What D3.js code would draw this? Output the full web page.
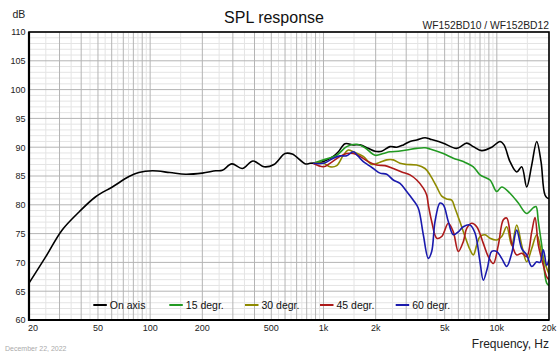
<!DOCTYPE html>
<html><head><meta charset="utf-8">
<script src="https://cdn.jsdelivr.net/npm/d3@7"></script>
<style>
body{margin:0;background:#fff;}
svg{display:block;font-family:"Liberation Sans",Arial,sans-serif;}
</style></head>
<body><svg id="c" width="560" height="356"></svg>
<script>
// ---- data ----
const yTicks = [60,65,70,75,80,85,90,95,100,105,110];
const xTickVals = [20,50,100,200,500,1000,2000,5000,10000,20000];
const xTickLabels = ["20","50","100","200","500","1k","2k","5k","10k","20k"];
const seriesNames = ["On axis","15 degr.","30 degr.","45 degr.","60 degr."];
const seriesColors = ["#000000","#229a22","#8e8a00","#ad1a1a","#1a1aad"];

const fOn = [20,25,31,39,48.5,60.5,75.5,86,103,130,160,200,239,261,296,340,392,454,518,600,660,788,836,942,1000,1139,1218,1331,1486,1624,1814,1983,2168,2418,2645,2888,3156,3450,3852,4116,4301,4913,5870,6702,7318,8181,9344,10434,11004,11915,13023,13919,14873,15900,16990,17990,18970,19816,20000];
const dbOn = [66.4,71.0,75.6,78.8,81.4,83.1,84.9,85.6,85.9,85.6,85.3,85.5,85.9,86.0,87.1,86.3,87.6,86.6,87.0,88.9,88.8,87.1,87.2,87.3,87.5,88.4,89.2,90.6,90.4,90.4,89.8,89.3,89.3,90.1,90.0,90.4,91.0,91.25,91.65,91.4,91.25,90.7,89.8,90.7,90.1,89.4,90.0,91.0,90.4,87.5,85.7,86.6,83.1,86.9,91.0,87.5,81.7,81.1,81.2];

const f15 = [870,1000,1192,1361,1554,1736,1983,2214,2418,2703,3021,3450,3852,4116,4913,5610,6406,7318,7998,9136,9986,10672,11915,13305,14873,16241,16834,17358,18156,19400,20000];
const db15 = [87.2,87.8,88.6,90.1,90.5,89.9,88.6,88.9,89.2,89.3,89.5,89.8,89.9,89.7,88.9,88.1,87.5,86.6,85.2,84.3,82.3,83.1,82.0,80.3,78.5,79.5,79.7,77.1,73.0,66.4,66.0];

const f30 = [870,1000,1090,1192,1301,1391,1486,1697,1898,2119,2316,2528,2764,3021,3450,3852,4116,4501,4809,5139,5492,5738,6133,6552,7004,7318,7656,7998,8547,9136,9986,10672,11404,12190,13023,13919,14873,15900,16990,18156,19400,20000];
const db30 = [87.2,87.2,86.6,86.8,88.6,89.5,89.2,88.4,87.0,87.4,87.8,87.8,87.2,87.0,86.9,86.3,85.2,83.1,81.5,81.0,80.8,79.4,77.0,74.5,72.2,71.3,73.0,74.5,74.8,74.2,73.9,74.5,76.2,73.0,76.5,73.0,70.1,72.4,74.8,71.6,69.0,68.0];

const f45 = [870,1000,1090,1246,1361,1486,1624,1814,2028,2265,2528,2827,3156,3450,3766,3940,4025,4210,4501,4809,5249,5610,5996,6406,6702,7164,7656,8356,8932,9546,10200,10902,11404,12190,13023,13919,14873,15900,16612,17358,18546,19400,20000];
const db45 = [87.2,86.6,87.2,88.4,88.9,88.9,88.4,87.5,86.9,86.8,86.3,85.7,85.2,84.3,82.9,81.7,80.0,77.1,74.2,74.5,76.8,75.3,71.9,73.6,75.9,76.8,76.2,73.3,71.0,69.8,73.0,77.4,77.7,73.3,71.3,71.6,71.0,75.3,77.8,73.0,69.5,67.5,67.0];

const f60 = [870,1000,1139,1246,1361,1486,1588,1697,1814,1938,2119,2316,2528,2764,3021,3298,3524,3766,4025,4210,4400,4702,4913,5249,5610,5996,6406,7004,7486,7998,8356,8814,9344,9986,10672,11404,12190,13023,13919,14873,15900,16990,17755,18546,19400,20000];
const db60 = [87.2,87.2,88.1,88.5,88.5,89.2,88.4,87.5,86.9,86.3,85.5,85.3,84.3,83.7,82.3,80.8,79.4,74.8,70.7,71.9,77.1,80.3,80.0,77.1,74.8,75.3,76.2,76.5,75.1,70.1,66.9,69.0,71.9,71.9,70.7,69.3,71.6,75.6,72.4,71.3,69.3,70.1,70.0,72.2,69.5,70.5];

const seriesF = [fOn,f15,f30,f45,f60];
const seriesDb = [dbOn,db15,db30,db45,db60];

// ---- layout ----
const L=29, R=549, T=32, B=320;
const svg = d3.select("#c");
const x = d3.scaleLog().domain([20,20000]).range([L,R]);
const y = d3.scaleLinear().domain([60,110]).range([B,T]);

// grid
const majorX=[], minorX=[];
[10,100,1000,10000].forEach(d=>{
  for(let k=1;k<=9;k++){ const v=k*d; if(v>=20&&v<=20000) majorX.push(v); const m=(k+0.5)*d; if(m>20&&m<20000) minorX.push(m);}
});
const minorY=[], majorY=[];
for(let v=60;v<=110;v++){ (v%5===0?majorY:minorY).push(v); }

const g = svg.append("g");
g.selectAll(".mnx").data(minorX).enter().append("line")
 .attr("x1",d=>x(d)).attr("x2",d=>x(d)).attr("y1",T).attr("y2",B)
 .attr("stroke","#e4e4e4").attr("stroke-width",1);
g.selectAll(".mny").data(minorY).enter().append("line")
 .attr("x1",L).attr("x2",R).attr("y1",d=>y(d)).attr("y2",d=>y(d))
 .attr("stroke","#e4e4e4").attr("stroke-width",1);
g.selectAll(".mjx").data(majorX).enter().append("line")
 .attr("x1",d=>x(d)).attr("x2",d=>x(d)).attr("y1",T).attr("y2",B)
 .attr("stroke","#b4b4b4").attr("stroke-width",1);
g.selectAll(".mjy").data(majorY).enter().append("line")
 .attr("x1",L).attr("x2",R).attr("y1",d=>y(d)).attr("y2",d=>y(d))
 .attr("stroke","#b4b4b4").attr("stroke-width",1);

// clip
svg.append("clipPath").attr("id","clip").append("rect")
 .attr("x",L).attr("y",T).attr("width",R-L).attr("height",B-T);

const line = d3.line().x(d=>x(d[0])).y(d=>y(d[1])).curve(d3.curveCatmullRom.alpha(0.5));
const cg = svg.append("g").attr("clip-path","url(#clip)");
seriesF.forEach((fs,i)=>{
  const pts = fs.map((f,j)=>[f,seriesDb[i][j]]);
  cg.append("path").datum(pts).attr("d",line).attr("fill","none")
    .attr("stroke",seriesColors[i]).attr("stroke-width",1.6)
    .attr("stroke-linejoin","round");
});

// frame
svg.append("rect").attr("x",L).attr("y",T).attr("width",R-L).attr("height",B-T)
 .attr("fill","none").attr("stroke","#000").attr("stroke-width",1.6);
svg.append("line").attr("x1",L).attr("x2",L).attr("y1",T).attr("y2",B+1).attr("stroke","#000").attr("stroke-width",2.2);
svg.append("line").attr("x1",L).attr("x2",R).attr("y1",B).attr("y2",B).attr("stroke","#000").attr("stroke-width",2.2);

// y labels
svg.selectAll(".yl").data(yTicks).enter().append("text")
 .attr("x",25.5).attr("y",d=>y(d)+3.3).attr("text-anchor","end")
 .attr("font-size","9px").attr("fill","#222").text(d=>d);
// x labels
svg.selectAll(".xl").data(xTickVals).enter().append("text")
 .attr("x",(d,i)=>i===0?x(d)-1:x(d)).attr("y",331)
 .attr("text-anchor",(d,i)=>i===0?"start":"middle")
 .attr("font-size","9px").attr("fill","#222").text((d,i)=>xTickLabels[i]);

// texts
svg.append("text").attr("x",274).attr("y",23).attr("text-anchor","middle")
 .attr("font-size","16px").attr("fill","#111").text("SPL response");
svg.append("text").attr("x",12.5).attr("y",18).attr("font-size","10.5px").attr("fill","#222").text("dB");
svg.append("text").attr("x",549).attr("y",29).attr("text-anchor","end")
 .attr("font-size","10.3px").attr("fill","#222").text("WF152BD10 / WF152BD12");
svg.append("text").attr("x",549).attr("y",347.5).attr("text-anchor","end")
 .attr("font-size","12px").attr("fill","#222").text("Frequency, Hz");
svg.append("text").attr("x",5).attr("y",351).attr("font-size","7px").attr("fill","#aaa").text("December 22, 2022");

// legend
const legX = [93.3,169.3,245,320,395.7];
const lg = svg.append("g");
seriesNames.forEach((n,i)=>{
  lg.append("line").attr("x1",legX[i]).attr("x2",legX[i]+13.5).attr("y1",305).attr("y2",305)
    .attr("stroke",seriesColors[i]).attr("stroke-width",2);
  lg.append("text").attr("x",legX[i]+16.5).attr("y",308.8).attr("font-size","10.5px")
    .attr("fill","#111").text(n);
});
</script></body></html>
